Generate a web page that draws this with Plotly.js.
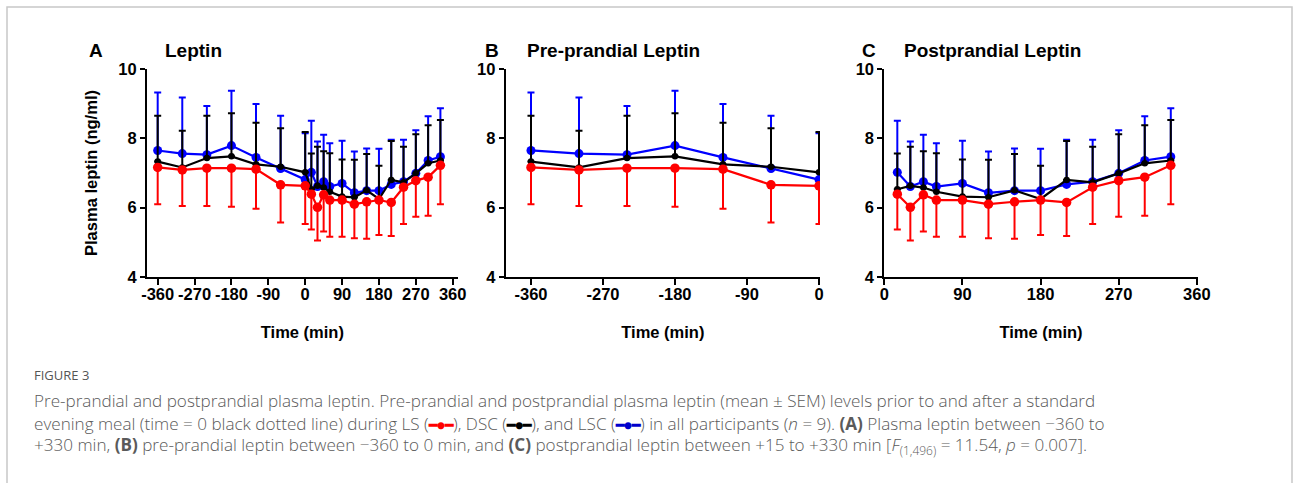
<!DOCTYPE html>
<html>
<head>
<meta charset="utf-8">
<script src="https://cdn.plot.ly/plotly-3.0.1.min.js"></script>
<style>
  html, body { margin: 0; padding: 0; background: #fff; }
  #chart { width: 1293px; height: 483px; }
</style>
</head>
<body>
<div id="chart"></div>
<script>
// ---- data ----
const times = [-360, -300, -240, -180, -120, -60, 0, 15, 30, 45, 60, 90, 120, 150, 180, 210, 240, 270, 300, 330];

// LSC (blue) mean and SEM (upper bars)
const lscMean = [7.65, 7.56, 7.53, 7.79, 7.45, 7.13, 6.81, 7.02, 6.61, 6.75, 6.61, 6.70, 6.43, 6.49, 6.49, 6.67, 6.75, 6.99, 7.36, 7.47];
const lscSem  = [1.67, 1.62, 1.40, 1.58, 1.54, 1.52, 1.34, 1.49, 1.30, 1.35, 1.25, 1.23, 1.19, 1.22, 1.21, 1.29, 1.21, 1.24, 1.28, 1.40];

// DSC (black) mean and SEM (upper bars)
const dscMean = [7.33, 7.16, 7.43, 7.48, 7.25, 7.18, 7.02, 6.53, 6.63, 6.58, 6.46, 6.32, 6.30, 6.50, 6.25, 6.80, 6.73, 6.99, 7.28, 7.36];
const dscSem  = [1.32, 1.06, 1.22, 1.24, 1.20, 1.11, 1.16, 1.03, 1.13, 1.05, 1.11, 1.07, 1.08, 1.05, 0.96, 1.12, 1.03, 1.13, 1.10, 1.17];

// LS (red) mean and SEM (lower bars)
const lsMean = [7.16, 7.09, 7.14, 7.14, 7.11, 6.66, 6.63, 6.39, 6.01, 6.37, 6.22, 6.22, 6.10, 6.17, 6.22, 6.15, 6.59, 6.78, 6.88, 7.22];
const lsSem  = [1.06, 1.04, 1.09, 1.11, 1.14, 1.09, 1.10, 1.02, 0.96, 1.06, 1.06, 1.06, 0.98, 1.07, 1.01, 0.97, 1.06, 1.04, 1.11, 1.12];

const yTicks = [4, 6, 8, 10];
const xTicksA = [-360, -270, -180, -90, 0, 90, 180, 270, 360];
const xTicksB = [-360, -270, -180, -90, 0];
const xTicksC = [0, 90, 180, 270, 360];

const panelLetters = ['A', 'B', 'C'];
const panelTitles = ['Leptin', 'Pre-prandial Leptin', 'Postprandial Leptin'];

// ---- layout helpers (pixel -> paper) ----
const W = 1293, H = 483;
const px = v => v / W;
const py = v => 1 - v / H;

const BLUE = '#0000ff', BLACK = '#000000', RED = '#ff0000';
const zeros = n => new Array(n).fill(0);

const panels = [
  { idx: times.map((_, i) => i), xa: 'x', ya: 'y' },
  { idx: times.map((t, i) => i).filter(i => times[i] <= 0), xa: 'x2', ya: 'y2' },
  { idx: times.map((t, i) => i).filter(i => times[i] > 0), xa: 'x3', ya: 'y3' }
];

const pick = (arr, idx) => idx.map(i => arr[i]);

const traces = [];
panels.forEach((p, k) => {
  const n = p.idx.length;
  const xs = pick(times, p.idx);
  traces.push({
    x: xs, y: pick(lscMean, p.idx), xaxis: p.xa, yaxis: p.ya, name: 'LSC',
    type: 'scatter', mode: 'lines+markers', showlegend: false,
    line: { color: BLUE, width: 2.2 }, marker: { color: BLUE, size: 9 },
    error_y: { type: 'data', symmetric: false, array: pick(lscSem, p.idx), arrayminus: zeros(n),
               color: BLUE, thickness: 2, width: 3.5 }
  });
  traces.push({
    x: xs, y: pick(dscMean, p.idx), xaxis: p.xa, yaxis: p.ya, name: 'DSC',
    type: 'scatter', mode: 'lines+markers', showlegend: false,
    line: { color: BLACK, width: 2.2 }, marker: { color: BLACK, size: 6.5 },
    error_y: { type: 'data', symmetric: false, array: pick(dscSem, p.idx), arrayminus: zeros(n),
               color: BLACK, thickness: 2, width: 3.5 }
  });
  traces.push({
    x: xs, y: pick(lsMean, p.idx), xaxis: p.xa, yaxis: p.ya, name: 'LS',
    type: 'scatter', mode: 'lines+markers', showlegend: false,
    line: { color: RED, width: 2.2 }, marker: { color: RED, size: 9.5 },
    error_y: { type: 'data', symmetric: false, array: zeros(n), arrayminus: pick(lsSem, p.idx),
               color: RED, thickness: 2, width: 3.5 }
  });
});

const tickFont = { family: 'Liberation Sans, Arial, sans-serif', size: 16.5, color: '#000', weight: 'bold' };
const titleFont = { family: 'Liberation Sans, Arial, sans-serif', size: 16.5, color: '#000', weight: 'bold' };

function xAxis(domain, range, ticks, anchor) {
  return {
    domain: domain, range: range, anchor: anchor,
    tickmode: 'array', tickvals: ticks, ticktext: ticks.map(String),
    showline: true, linecolor: '#000', linewidth: 2,
    ticks: 'outside', ticklen: 6, tickwidth: 2, tickcolor: '#000',
    ticklabelstandoff: -5,
    showgrid: false, zeroline: false, tickfont: tickFont,
    title: { text: 'Time (min)', font: titleFont, standoff: 25 },
    fixedrange: true
  };
}
function yAxis(anchor, withTitle) {
  const ax = {
    domain: [py(277), py(69)], range: [4, 10], anchor: anchor,
    tickmode: 'array', tickvals: yTicks, ticktext: yTicks.map(String),
    showline: true, linecolor: '#000', linewidth: 2,
    ticks: 'outside', ticklen: 5, tickwidth: 2, tickcolor: '#000',
    ticklabelstandoff: -2.5,
    showgrid: false, zeroline: false, tickfont: tickFont,
    fixedrange: true
  };
  if (withTitle) ax.title = { text: 'Plasma leptin (ng/ml)', font: titleFont, standoff: 17 };
  return ax;
}

const panelFont = { family: 'Liberation Sans, Arial, sans-serif', size: 19, color: '#000', weight: 'bold' };
const letterX = [87, 483, 860];
const titleX = [163, 525, 902];

const annotations = [];
panelLetters.forEach((L, k) => {
  annotations.push({ xref: 'paper', yref: 'paper', x: px(letterX[k]), y: py(51), xanchor: 'left', yanchor: 'middle',
    text: L, showarrow: false, font: panelFont });
  annotations.push({ xref: 'paper', yref: 'paper', x: px(titleX[k]), y: py(51), xanchor: 'left', yanchor: 'middle',
    text: panelTitles[k], showarrow: false, font: panelFont });
});

const capFont = { family: 'Open Sans, Lato, sans-serif', size: 17.1, color: '#5a5a5a', weight: 300 };
const sym = c => "<span style='color:" + c + ";font-size:14px'><b>━●━</b></span>";
const captionLines = [
  'Pre-prandial and postprandial plasma leptin. Pre-prandial and postprandial plasma leptin (mean ± SEM) levels prior to and after a standard',
  'evening meal (time = 0 black dotted line) during LS (' + sym(RED) + '), DSC (' + sym(BLACK) + '), and LSC (' + sym('#0000cc') + ') in all participants (<i>n</i> = 9). <b>(A)</b> Plasma leptin between −360 to',
  '+330 min, <b>(B)</b> pre-prandial leptin between −360 to 0 min, and <b>(C)</b> postprandial leptin between +15 to +330 min [<i>F</i><sub>(1,496)</sub> = 11.54, <i>p</i> = 0.007].'
];
annotations.push({ xref: 'paper', yref: 'paper', x: px(32), y: py(375), xanchor: 'left', yanchor: 'middle',
  text: 'FIGURE 3', showarrow: false, font: { family: 'Open Sans, Lato, sans-serif', size: 13, color: '#555' } });
const lineY = [400, 423, 446];
captionLines.forEach((t, i) => {
  annotations.push({ xref: 'paper', yref: 'paper', x: px(32), y: py(lineY[i]), xanchor: 'left', yanchor: 'middle',
    text: t, showarrow: false, font: capFont });
});

const layout = {
  width: W, height: H,
  margin: { l: 0, r: 0, t: 0, b: 0 },
  paper_bgcolor: '#fff', plot_bgcolor: 'rgba(0,0,0,0)',
  showlegend: false,
  xaxis:  xAxis([px(147), px(457.7)], [-386.1, 372.2], xTicksA, 'y'),
  yaxis:  yAxis('x', true),
  xaxis2: xAxis([px(505.7), px(820)], [-391.6, 1.25], xTicksB, 'y2'),
  yaxis2: yAxis('x2', false),
  xaxis3: xAxis([px(884.3), px(1197.7)], [0, 361], xTicksC, 'y3'),
  yaxis3: yAxis('x3', false),
  annotations: annotations,
  shapes: [{ type: 'rect', xref: 'paper', yref: 'paper', x0: px(7), x1: px(1292), y0: -0.2, y1: py(7),
             line: { color: '#c8c8c8', width: 1.5 }, fillcolor: 'rgba(0,0,0,0)', layer: 'below' }]
};

Plotly.newPlot('chart', traces, layout, { displayModeBar: false, staticPlot: true });
</script>
</body>
</html>
